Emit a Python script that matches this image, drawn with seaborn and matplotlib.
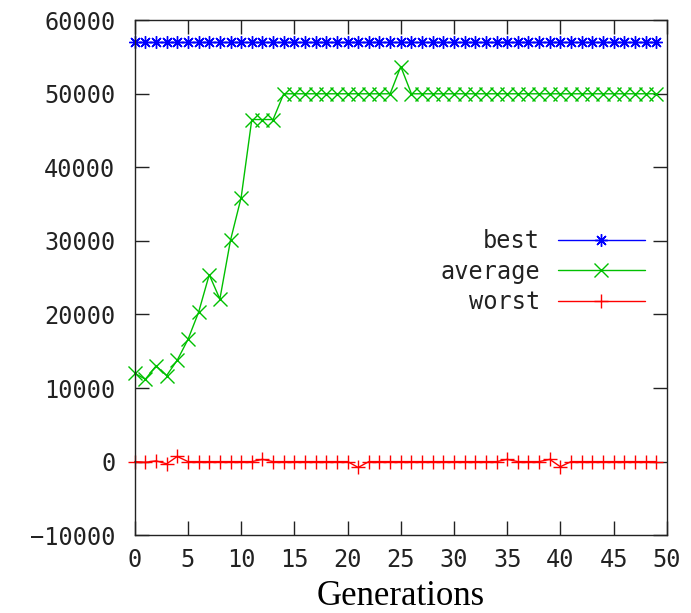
import numpy as np
import pandas as pd
import matplotlib
matplotlib.use("Agg")
import matplotlib.pyplot as plt
import seaborn as sns

generations = list(range(50))
best = [57100] * 50
average = [12000, 11200, 13000, 11700, 13800, 16600, 20300, 25400, 22100, 30100,
           35900, 46500, 46500, 46500, 50000, 50000, 50000, 50000, 50000, 50000,
           50000, 50000, 50000, 50000, 50000, 53700, 50000, 50000, 50000, 50000,
           50000, 50000, 50000, 50000, 50000, 50000, 50000, 50000, 50000, 50000,
           50000, 50000, 50000, 50000, 50000, 50000, 50000, 50000, 50000, 50000]
worst = [0, -100, 100, -300, 700, 0, 0, 0, 0, 0,
         0, 0, 300, 0, 0, 0, 0, 0, 0, 0,
         0, -800, 0, 0, 0, 0, 0, 0, 0, 0,
         0, 0, 0, 0, 0, 300, 0, 0, 0, 300,
         -700, 0, 0, 0, 0, 0, 0, 0, 0, 0]
series_names = ["best", "average", "worst"]
x_ticks = list(range(0, 51, 5))
y_ticks = list(range(-10000, 60001, 10000))

sns.set_theme(style="ticks")
plt.rcParams["font.family"] = ["DejaVu Sans Mono", "DejaVu Sans"]

fig = plt.figure(figsize=(6.91, 6.13), dpi=100)
ax = fig.add_axes([0.195, 0.127, 0.77, 0.84])

styles = {
    "best": dict(color="#0000ff", marker=(8, 2, 0), markersize=9),
    "average": dict(color="#00c000", marker="x", markersize=10.5),
    "worst": dict(color="#ff0000", marker="+", markersize=10),
}
data = {"best": best, "average": average, "worst": worst}
for name in series_names:
    st = styles[name]
    sns.lineplot(x=generations, y=data[name], ax=ax, color=st["color"],
                 marker=st["marker"], markersize=st["markersize"],
                 markeredgecolor=st["color"], markeredgewidth=1.0,
                 linewidth=1.0, label=name, clip_on=False)

ax.set_xlim(0, 50)
ax.set_ylim(-10000, 60000)
ax.set_xticks(x_ticks)
ax.set_yticks(y_ticks)
ax.tick_params(direction="in", length=10, width=1, top=True, right=True,
               labelsize=17, colors="#222222")
ax.tick_params(axis="y", pad=14)
ax.tick_params(axis="x", pad=9)
for sp in ax.spines.values():
    sp.set_visible(True)
    sp.set_color("#222222")
    sp.set_linewidth(1.0)
ax.grid(False)
ax.set_xlabel("Generations", fontsize=25, family=["Liberation Serif"], labelpad=6, color="black")
ax.set_ylabel("")

leg = ax.legend(loc="center right", bbox_to_anchor=(0.959, 0.512), frameon=False,
                markerfirst=False, fontsize=17, handlelength=3.7, handletextpad=0.75,
                borderpad=0, borderaxespad=0, labelspacing=0.27)
for t in leg.get_texts():
    t.set_color("#222222")

fig.savefig("out.png", dpi=100)
